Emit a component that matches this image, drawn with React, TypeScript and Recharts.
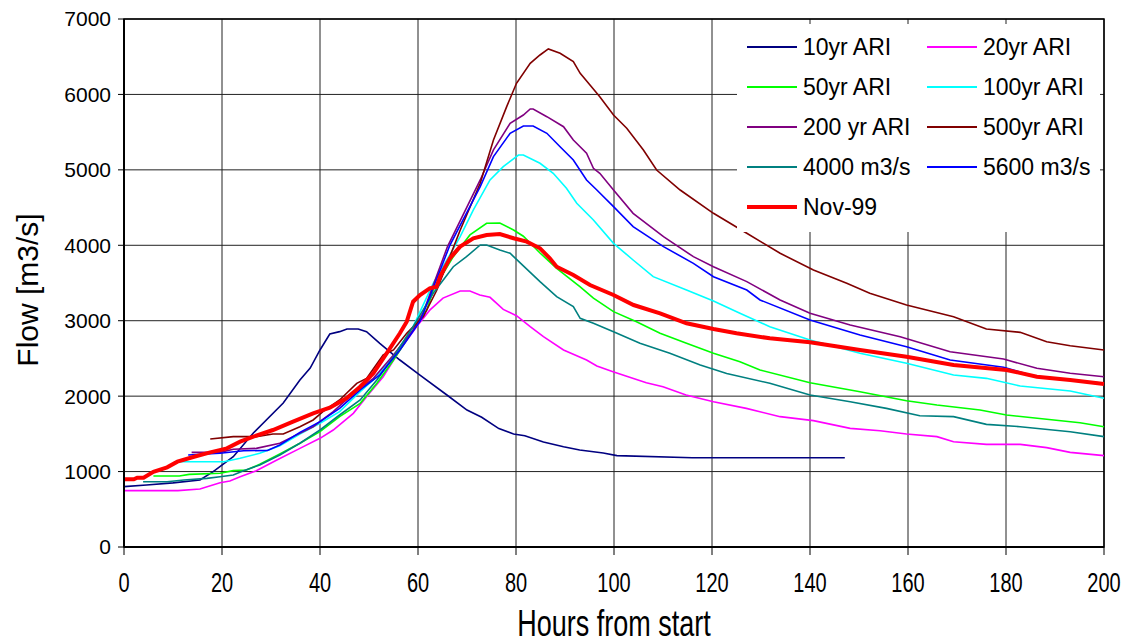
import React from "react";
import {
  LineChart,
  Line,
  XAxis,
  YAxis,
  CartesianGrid,
  Legend,
  ReferenceArea,
} from "recharts";

// [hours from start, flow m3/s]
const ari10: [number, number][] = [
  [0, 800], [4.6, 822], [10, 850], [15.5, 888], [18.2, 1000], [22.3, 1197],
  [26.4, 1511], [32.5, 1909], [35.9, 2214], [38, 2373], [40, 2612], [42, 2824],
  [44, 2855], [45.5, 2890], [47.8, 2890], [49.5, 2855], [52.2, 2700],
  [56.3, 2479], [60.4, 2280], [65.9, 2015], [70, 1816], [73, 1720],
  [76.5, 1570], [79.5, 1498], [81.8, 1476], [85.6, 1392], [89.7, 1330],
  [93, 1286], [97.8, 1246], [100.6, 1211], [116, 1184], [147.1, 1184],
];

const ari20: [number, number][] = [
  [0, 747], [11, 747], [15.5, 769], [19.6, 853], [21.6, 875], [23.7, 932],
  [27, 1012], [31.2, 1153], [35.9, 1308], [40, 1441], [42.7, 1551],
  [46.8, 1772], [49.5, 1993], [52.9, 2258], [56.3, 2610], [59.7, 2920],
  [62.4, 3140], [65.1, 3300], [68.6, 3394], [70.6, 3394], [72.6, 3341],
  [74.7, 3310], [77.4, 3150], [80.1, 3066], [82.9, 2921], [85.6, 2788],
  [89.7, 2612], [94.4, 2479], [96.5, 2400], [99.8, 2324], [103.2, 2250],
  [106.6, 2178], [110, 2125], [114.7, 2015], [120.3, 1926], [127, 1838],
  [133.9, 1728], [140.7, 1675], [148.2, 1573], [154.3, 1542], [159.7, 1498],
  [165.9, 1463], [169.3, 1396], [176, 1361], [182.9, 1361], [188.3, 1317],
  [193.1, 1255], [200, 1211],
];

const ari50: [number, number][] = [
  [6, 941], [11.3, 941], [13.3, 963], [19.6, 977], [22.3, 1012], [25, 1021],
  [27.7, 1096], [31.8, 1233], [35.9, 1375], [40, 1529], [44, 1728],
  [48.2, 1905], [51.6, 2170], [55, 2479], [59, 2877], [61.8, 3142],
  [63.1, 3407], [67.2, 3849], [70.6, 4137], [74, 4292], [76.7, 4295],
  [79.5, 4203], [81.5, 4120], [84.9, 3898], [88.3, 3695], [93.1, 3450],
  [95.8, 3300], [99.9, 3120], [104.6, 2987], [109.4, 2833], [114.8, 2700],
  [120.3, 2568], [125.7, 2457], [129.8, 2347], [140, 2178], [150.2, 2059],
  [159.7, 1940], [165.9, 1883], [174.7, 1816], [180.1, 1750], [188.3, 1693],
  [195.1, 1648], [200, 1595],
];

const ari100: [number, number][] = [
  [11.4, 1131], [20.4, 1131], [23.7, 1176], [27.7, 1242], [31.8, 1343],
  [35.9, 1498], [40, 1640], [44, 1794], [48.2, 2059], [51.6, 2258],
  [55, 2523], [59, 2921], [63.1, 3496], [65.9, 3805], [68.6, 4114],
  [71.3, 4468], [74.7, 4866], [77.4, 5042], [80.5, 5197], [81.5, 5197],
  [84.9, 5087], [87.6, 4954], [90.3, 4755], [92.4, 4557], [95.8, 4335],
  [99.9, 4026], [103.9, 3805], [108, 3584], [114.8, 3407], [120.3, 3260],
  [125.7, 3098], [131.8, 2921], [140, 2744], [150.2, 2568], [159.7, 2435],
  [169.3, 2280], [176, 2236], [182.9, 2134], [193.1, 2068], [200, 1971],
];

const ari200: [number, number][] = [
  [13.8, 1255], [19.6, 1255], [22.3, 1295], [27, 1308], [31.8, 1375],
  [34.5, 1463], [38.6, 1595], [42.7, 1794], [46.8, 2037], [50.9, 2236],
  [55, 2546], [59, 2877], [61, 3100], [66, 3980], [72.7, 4866], [75.4, 5264],
  [78.8, 5617], [81.5, 5727], [82.9, 5807], [83.5, 5807], [86.3, 5705],
  [89.7, 5572], [91.7, 5396], [94.4, 5220], [95.8, 5021], [97.1, 4954],
  [99.9, 4733], [103.9, 4424], [110.1, 4114], [116.2, 3849], [120.3, 3716],
  [127.1, 3518], [133.9, 3275], [140, 3098], [148.2, 2943], [158.4, 2788],
  [168.6, 2589], [179.5, 2492], [186.3, 2369], [193.1, 2303], [200, 2258],
];

const ari500: [number, number][] = [
  [17.6, 1432], [22.3, 1463], [27, 1463], [30.4, 1498], [32.5, 1498],
  [35.9, 1595], [38.6, 1684], [40.6, 1794], [44, 1949], [47.5, 2170],
  [49.5, 2236], [52.9, 2546], [55, 2612], [57.7, 2833], [61.1, 3054],
  [63.8, 3400], [68.6, 4200], [72.7, 4822], [75.4, 5396], [78.1, 5838],
  [80.1, 6148], [82.9, 6413], [84.9, 6523], [86.6, 6603], [89, 6545],
  [91.7, 6434], [93.1, 6280], [95.1, 6125], [97.1, 5970], [99.9, 5727],
  [102.6, 5551], [106, 5264], [108.7, 4998], [113.5, 4733], [120.3, 4424],
  [127.1, 4159], [133.9, 3894], [140.7, 3673], [147.5, 3496], [152.2, 3364],
  [159.7, 3208], [169.3, 3054], [176, 2890], [182.9, 2846], [188.3, 2722],
  [193.1, 2669], [200, 2612],
];

const flow4000: [number, number][] = [
  [3.9, 866], [8.8, 866], [12.2, 888], [16.9, 910], [19.6, 932], [22.3, 955],
  [24.4, 1012], [27.7, 1087], [31.8, 1220], [35.9, 1375], [40, 1551],
  [44, 1750], [48.2, 1949], [51.6, 2214], [55, 2523], [59, 2921],
  [63.1, 3364], [67.2, 3716], [69.9, 3849], [72.7, 4004], [74, 4004],
  [76.7, 3938], [78.8, 3894], [80.8, 3770], [84.9, 3518], [88.3, 3319],
  [91.7, 3186], [93.1, 3032], [95.8, 2966], [99.9, 2855], [105.3, 2700],
  [111.4, 2568], [117.6, 2413], [123, 2300], [131.8, 2170], [140, 2015],
  [148.2, 1926], [155.6, 1838], [162.4, 1741], [169.3, 1728], [176, 1626],
  [182.9, 1595], [193.1, 1529], [200, 1463],
];

const flow5600: [number, number][] = [
  [13.1, 1220], [19.6, 1242], [24.4, 1277], [29.3, 1280], [31.8, 1352],
  [35.9, 1520], [40, 1662], [44, 1838], [48.2, 2082], [52.2, 2280],
  [56.3, 2612], [60.5, 3000], [66.5, 4000], [72.7, 4777], [75.4, 5175],
  [78.8, 5485], [81.5, 5582], [83.5, 5582], [86.3, 5485], [89, 5307],
  [91.7, 5131], [94.4, 4866], [96.5, 4733], [99.9, 4512], [103.9, 4247],
  [110.1, 3982], [116.2, 3761], [120.3, 3584], [127.1, 3407], [129.8, 3275],
  [140, 3010], [150.2, 2811], [159.7, 2656], [168.6, 2479], [179.5, 2382],
  [186.3, 2258], [193.1, 2214], [200, 2170],
];

const nov99: [number, number][] = [
  [0, 897], [2, 897], [2.7, 919], [4, 919], [6, 998], [8.8, 1056],
  [10.9, 1131], [14.3, 1197], [17.6, 1255], [21, 1308], [23.7, 1396],
  [26.4, 1463], [30.4, 1551], [34.5, 1662], [38.6, 1772], [42, 1847],
  [45.4, 1971], [48.2, 2125], [50.9, 2303], [53.6, 2568], [56.3, 2833],
  [57.7, 2987], [59, 3252], [60.4, 3341], [62.4, 3430], [63.8, 3451],
  [64.5, 3584], [66.5, 3827], [68.6, 3982], [71.3, 4093], [74, 4137],
  [76.7, 4150], [79.5, 4093], [82.2, 4048], [84.9, 3960], [86.9, 3827],
  [88.3, 3716], [91.7, 3606], [95.1, 3473], [99.9, 3341], [104, 3208],
  [109.4, 3098], [114.8, 2966], [120.3, 2890], [125, 2833], [131.8, 2767],
  [140, 2714], [150.2, 2612], [159.7, 2523], [169.3, 2413], [180.1, 2347],
  [186.3, 2258], [193.1, 2214], [200, 2161],
];

const xTicks = [0, 20, 40, 60, 80, 100, 120, 140, 160, 180, 200];
const yTicks = [0, 1000, 2000, 3000, 4000, 5000, 6000, 7000];

const series = [
  { name: "10yr ARI", points: ari10, color: "#000080", width: 1.6 },
  { name: "20yr ARI", points: ari20, color: "#ff00ff", width: 1.6 },
  { name: "50yr ARI", points: ari50, color: "#00ff00", width: 1.6 },
  { name: "100yr ARI", points: ari100, color: "#00ffff", width: 1.6 },
  { name: "200 yr ARI", points: ari200, color: "#800080", width: 1.6 },
  { name: "500yr ARI", points: ari500, color: "#800000", width: 1.6 },
  { name: "4000 m3/s", points: flow4000, color: "#008080", width: 1.6 },
  { name: "5600 m3/s", points: flow5600, color: "#0000ff", width: 1.6 },
  { name: "Nov-99", points: nov99, color: "#ff0000", width: 4 },
];

const FONT = "'Liberation Sans', Arial, sans-serif";

// x-axis text in the original is drawn taller than it is wide
function XTick(props: any) {
  const { x, payload } = props;
  return (
    <text
      transform={`translate(${x},592) scale(1,1.4)`}
      textAnchor="middle"
      fill="#000"
      fontSize={20}
      fontFamily={FONT}
    >
      {payload.value}
    </text>
  );
}

function XTitle(props: any) {
  const { viewBox } = props;
  const cx = viewBox.x + viewBox.width / 2;
  return (
    <text
      transform={`translate(${cx},636) scale(1,1.35)`}
      textAnchor="middle"
      fill="#000"
      fontSize={27}
      fontFamily={FONT}
    >
      Hours from start
    </text>
  );
}

function YTitle() {
  return (
    <text
      transform="translate(38,290) rotate(-90)"
      textAnchor="middle"
      fill="#000"
      fontSize={30}
      fontFamily={FONT}
    >
      Flow [m3/s]
    </text>
  );
}

function LegendBox() {
  return (
    <div
      style={{
        display: "grid",
        gridTemplateColumns: "180px 180px",
        gridAutoRows: "40px",
        padding: "3px 0 0 10px",
        fontFamily: FONT,
        fontSize: 23,
        color: "#000",
      }}
    >
      {series.map((s) => (
        <div key={s.name} style={{ display: "flex", alignItems: "center" }}>
          <span
            style={{
              display: "inline-block",
              width: 50,
              height: s.width > 2 ? 4 : 2,
              background: s.color,
              marginRight: 6,
            }}
          />
          <span style={{ whiteSpace: "nowrap" }}>{s.name}</span>
        </div>
      ))}
    </div>
  );
}

export default function App() {
  const toData = (pts: [number, number][]) =>
    pts.map(([h, v]) => ({ h, v }));

  return (
    <div style={{ position: "absolute", left: 0, top: 0, width: 1129, height: 644, background: "#fff" }}>
      <LineChart
        width={1129}
        height={644}
        margin={{ top: 19, right: 25, bottom: 37, left: 54 }}
      >
        <CartesianGrid stroke="#222" strokeWidth={1} />
        <XAxis
          dataKey="h"
          type="number"
          domain={[0, 200]}
          ticks={xTicks}
          height={60}
          tickSize={8}
          axisLine={{ stroke: "#000", strokeWidth: 2 }}
          tickLine={{ stroke: "#000" }}
          tick={<XTick />}
          label={<XTitle />}
        />
        <YAxis
          type="number"
          domain={[0, 7000]}
          ticks={yTicks}
          width={70}
          tickSize={6}
          tickMargin={7}
          axisLine={{ stroke: "#000", strokeWidth: 2 }}
          tickLine={{ stroke: "#000" }}
          tick={{ fill: "#000", fontSize: 21, fontFamily: FONT }}
          label={<YTitle />}
        />
        <ReferenceArea
          x1={0}
          x2={200}
          y1={0}
          y2={7000}
          fill="none"
          stroke="#000"
          strokeWidth={1.5}
          ifOverflow="extendDomain"
        />
        {series.map((s) => (
          <Line
            key={s.name}
            data={toData(s.points)}
            dataKey="v"
            name={s.name}
            type="linear"
            stroke={s.color}
            strokeWidth={s.width}
            dot={false}
            activeDot={false}
            isAnimationActive={false}
          />
        ))}
        <Legend
          layout="vertical"
          align="center"
          verticalAlign="middle"
          content={() => <LegendBox />}
          wrapperStyle={{
            left: 737,
            top: 24,
            width: 363,
            height: 208,
            background: "#fff",
          }}
        />
      </LineChart>
    </div>
  );
}
